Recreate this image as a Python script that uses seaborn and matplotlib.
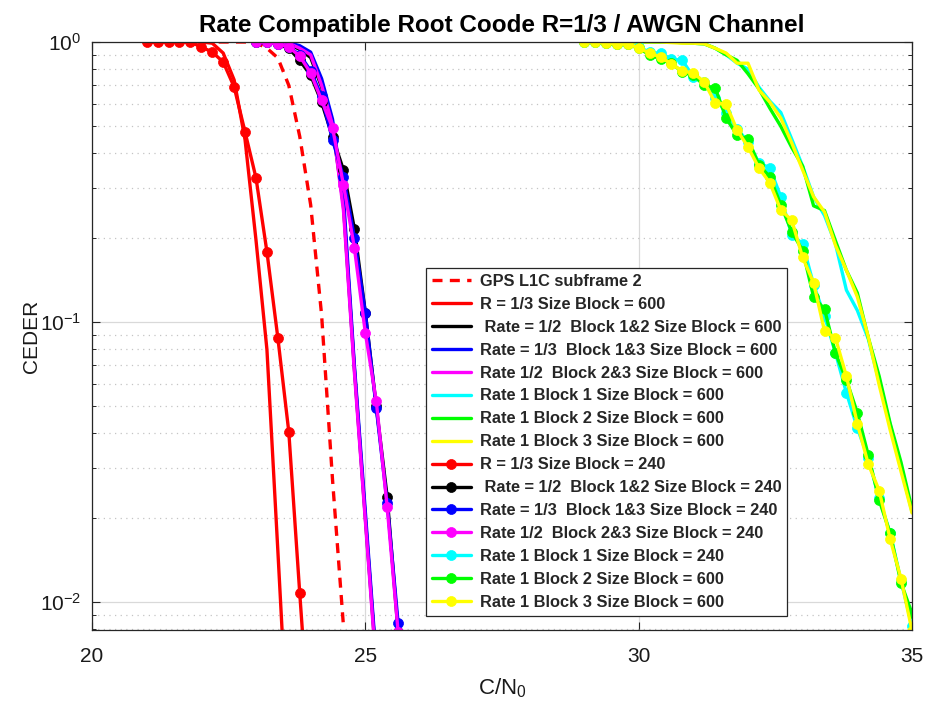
import matplotlib
matplotlib.use("Agg")
import matplotlib.pyplot as plt
import seaborn as sns
import numpy as np
import pandas as pd
from matplotlib.ticker import LogLocator, NullFormatter, FixedLocator

# ---- data -------------------------------------------------------------
# GPS L1C subframe 2 reference curve
x_gps = [22.0, 22.4, 22.8, 23.0, 23.2, 23.4, 23.6, 23.8, 24.0, 24.2, 24.4, 24.6]
y_gps = [1.0, 1.0, 1.0, 0.995, 0.95, 0.877, 0.70, 0.46, 0.262, 0.106, 0.0273, 0.0082]

# R = 1/3, block size 600 and 240
x_r600 = [21.0, 21.2, 21.4, 21.6, 21.8, 22.0, 22.2, 22.4, 22.6, 22.8, 23.0, 23.2, 23.4, 23.6]
y_r600 = [1.0, 1.0, 1.0, 1.0, 1.0, 1.0, 0.99, 0.913, 0.732, 0.447, 0.196, 0.0797, 0.0152, 0.0028]

x_r240 = [21.0, 21.2, 21.4, 21.6, 21.8, 22.0, 22.2, 22.4, 22.6, 22.8, 23.0, 23.2, 23.4, 23.6,
          23.8, 24.0]
y_r240 = [1.0, 1.0, 1.0, 1.0, 1.0, 0.96, 0.921, 0.848, 0.691, 0.477, 0.327, 0.178, 0.0877,
          0.0405, 0.01076, 0.003]

# Rate 1/2 and 1/3 combined blocks
x_m600 = [23.0, 23.2, 23.4, 23.6, 23.8, 24.0, 24.2, 24.4, 24.6, 24.8, 25.0, 25.2]
y_k600 = [1.0, 1.0, 1.0, 0.985, 0.94, 0.88, 0.69, 0.50, 0.26, 0.068, 0.020, 0.0060]
y_b600 = [1.0, 1.0, 1.0, 0.995, 0.97, 0.92, 0.74, 0.53, 0.28, 0.070, 0.021, 0.0062]
y_p600 = [1.0, 1.0, 1.0, 0.99, 0.95, 0.90, 0.70, 0.505, 0.25, 0.066, 0.0195, 0.0058]

x_m240 = [23.0, 23.2, 23.4, 23.6, 23.8, 24.0, 24.2, 24.4, 24.6, 24.8, 25.0, 25.2, 25.4, 25.6]
y_k240 = [1.0, 1.0, 0.98, 0.95, 0.86, 0.76, 0.61, 0.458, 0.349, 0.215, 0.108, 0.050, 0.0237,
          0.0078]
y_b240 = [1.0, 1.0, 0.985, 0.96, 0.90, 0.79, 0.64, 0.447, 0.33, 0.20, 0.108, 0.0494, 0.0225,
          0.0084]
y_p240 = [1.0, 1.0, 0.984, 0.96, 0.89, 0.775, 0.62, 0.493, 0.309, 0.184, 0.0914, 0.0522,
          0.0218, 0.0078]

# Rate 1, single blocks
x_hi = [29.0, 29.2, 29.4, 29.6, 29.8, 30.0, 30.2, 30.4, 30.6, 30.8, 31.0, 31.2, 31.4, 31.6,
        31.8, 32.0, 32.2, 32.4, 32.6, 32.8, 33.0, 33.2, 33.4, 33.6, 33.8, 34.0, 34.2, 34.4,
        34.6, 34.8, 35.0]
y_c600 = [1.0, 1.0, 1.0, 1.0, 1.0, 1.0, 1.0, 1.0, 1.0, 0.995, 0.99, 0.985, 0.95, 0.90, 0.84,
          0.80, 0.69, 0.615, 0.56, 0.45, 0.36, 0.28, 0.24, 0.19, 0.13, 0.11, 0.087, 0.061,
          0.043, 0.030, 0.021]
y_g600 = [1.0, 1.0, 1.0, 1.0, 1.0, 1.0, 1.0, 1.0, 1.0, 0.995, 0.99, 0.985, 0.95, 0.90, 0.86,
          0.77, 0.68, 0.58, 0.50, 0.42, 0.36, 0.26, 0.25, 0.195, 0.153, 0.127, 0.088, 0.064,
          0.0435, 0.0315, 0.0215]
y_y600 = [1.0, 1.0, 1.0, 1.0, 1.0, 1.0, 1.0, 1.0, 0.995, 0.99, 0.99, 0.985, 0.95, 0.913, 0.84,
          0.84, 0.674, 0.61, 0.535, 0.436, 0.349, 0.28, 0.247, 0.188, 0.153, 0.123, 0.0885,
          0.0595, 0.0412, 0.0292, 0.0208]
y_c240 = [1.0, 1.0, 0.99, 0.985, 0.98, 0.96, 0.92, 0.91, 0.87, 0.86, 0.75, 0.72, 0.63, 0.56,
          0.49, 0.44, 0.37, 0.355, 0.28, 0.205, 0.19, 0.136, 0.105, 0.0775, 0.0559, 0.0418,
          0.0326, 0.0235, 0.0176, 0.0119, 0.0082]
y_g240 = [1.0, 1.0, 0.99, 0.98, 0.98, 0.95, 0.90, 0.87, 0.84, 0.78, 0.76, 0.70, 0.685, 0.535,
          0.465, 0.45, 0.364, 0.33, 0.262, 0.21, 0.18, 0.123, 0.111, 0.0775, 0.0621, 0.0474,
          0.0335, 0.0231, 0.0176, 0.0117, 0.0091]
y_y240 = [1.0, 1.0, 0.992, 0.984, 0.984, 0.952, 0.913, 0.884, 0.834, 0.788, 0.775, 0.72, 0.606,
          0.60, 0.485, 0.422, 0.355, 0.314, 0.251, 0.231, 0.17, 0.138, 0.0928, 0.0877, 0.064,
          0.0434, 0.0311, 0.025, 0.0168, 0.0121, 0.0079]

RED, BLACK, BLUE, MAGENTA = "#FF0000", "#000000", "#0000FF", "#FF00FF"
CYAN, GREEN, YELLOW = "#00FFFF", "#00FF00", "#FFFF00"

# (x, y, colour, label, dashed, markers)
series = [
    (x_gps, y_gps, RED, "GPS L1C subframe 2", True, False),
    (x_r600, y_r600, RED, "R = 1/3 Size Block = 600", False, False),
    (x_m600, y_k600, BLACK, " Rate = 1/2  Block 1&2 Size Block = 600", False, False),
    (x_m600, y_b600, BLUE, "Rate = 1/3  Block 1&3 Size Block = 600", False, False),
    (x_m600, y_p600, MAGENTA, "Rate 1/2  Block 2&3 Size Block = 600", False, False),
    (x_hi, y_c600, CYAN, "Rate 1 Block 1 Size Block = 600", False, False),
    (x_hi, y_g600, GREEN, "Rate 1 Block 2 Size Block = 600", False, False),
    (x_hi, y_y600, YELLOW, "Rate 1 Block 3 Size Block = 600", False, False),
    (x_r240, y_r240, RED, "R = 1/3 Size Block = 240", False, True),
    (x_m240, y_k240, BLACK, " Rate = 1/2  Block 1&2 Size Block = 240", False, True),
    (x_m240, y_b240, BLUE, "Rate = 1/3  Block 1&3 Size Block = 240", False, True),
    (x_m240, y_p240, MAGENTA, "Rate 1/2  Block 2&3 Size Block = 240", False, True),
    (x_hi, y_c240, CYAN, "Rate 1 Block 1 Size Block = 240", False, True),
    (x_hi, y_g240, GREEN, "Rate 1 Block 2 Size Block = 600", False, True),
    (x_hi, y_y240, YELLOW, "Rate 1 Block 3 Size Block = 600", False, True),
]

# ---- style ------------------------------------------------------------
sns.set_style("ticks")
plt.rcParams["font.family"] = ["Liberation Sans", "DejaVu Sans"]
plt.rcParams["mathtext.default"] = "regular"
plt.rcParams["axes.unicode_minus"] = False

AX_COLOR = "#262626"
TXT_COLOR = "#1a1a1a"

fig = plt.figure(figsize=(9.26, 7.04), dpi=100)
ax = fig.add_axes([92 / 926, 1 - 630 / 704, 820 / 926, 588 / 704])
ax.set_yscale("log")

for x, y, c, lab, dashed, mk in series:
    df = pd.DataFrame({"x": x, "y": y})
    kw = dict(color=c, linewidth=2.4, label=lab, ax=ax, sort=False, estimator=None)
    if dashed:
        kw["linestyle"] = (0, (3.0, 2.2))
    if mk:
        kw.update(marker="o", markersize=7.2, markeredgecolor=c, markeredgewidth=0.5)
    sns.lineplot(data=df, x="x", y="y", **kw)

ax.set_xlim(20, 35)
ax.set_ylim(10 ** -2.1, 1.0)

ax.xaxis.set_major_locator(FixedLocator([20, 25, 30, 35]))
ax.yaxis.set_major_locator(LogLocator(base=10, numticks=10))
ax.yaxis.set_minor_locator(LogLocator(base=10, subs=np.arange(2, 10), numticks=20))
ax.yaxis.set_minor_formatter(NullFormatter())

ax.set_axisbelow(True)
ax.grid(True, which="major", axis="both", color="#d9d9d9", linewidth=0.9, linestyle="-")
ax.grid(True, which="minor", axis="y", color="#c4c4c4", linewidth=0.9, linestyle=(0, (1, 3.5)))

for s in ax.spines.values():
    s.set_color(AX_COLOR)
    s.set_linewidth(0.9)
ax.tick_params(which="both", direction="in", top=True, right=True, colors=AX_COLOR,
               labelcolor=TXT_COLOR, labelsize=15)
ax.tick_params(which="major", length=6, width=0.8)
ax.tick_params(which="minor", length=3, width=0.7)
ax.tick_params(axis="x", pad=12)
ax.tick_params(axis="y", pad=8)

ax.set_xlabel("C/N$_0$", fontsize=16, color=TXT_COLOR, labelpad=8)
ax.set_ylabel("CEDER", fontsize=15, color=TXT_COLOR, labelpad=-1)
ax.set_title("Rate Compatible Root Coode R=1/3 / AWGN Channel", fontsize=17.5,
             fontweight="bold", pad=7, color="black")

leg = ax.legend(loc="upper left", bbox_to_anchor=(334 / 820, 1 - 226 / 588),
                borderaxespad=0, frameon=True, fancybox=False, framealpha=1,
                edgecolor=AX_COLOR, prop={"weight": "bold", "size": 11.8},
                handlelength=2.4, handletextpad=0.55, labelspacing=0.485,
                borderpad=0.35, numpoints=1)
leg.get_frame().set_linewidth(0.9)

fig.savefig("out.png", dpi=100)
